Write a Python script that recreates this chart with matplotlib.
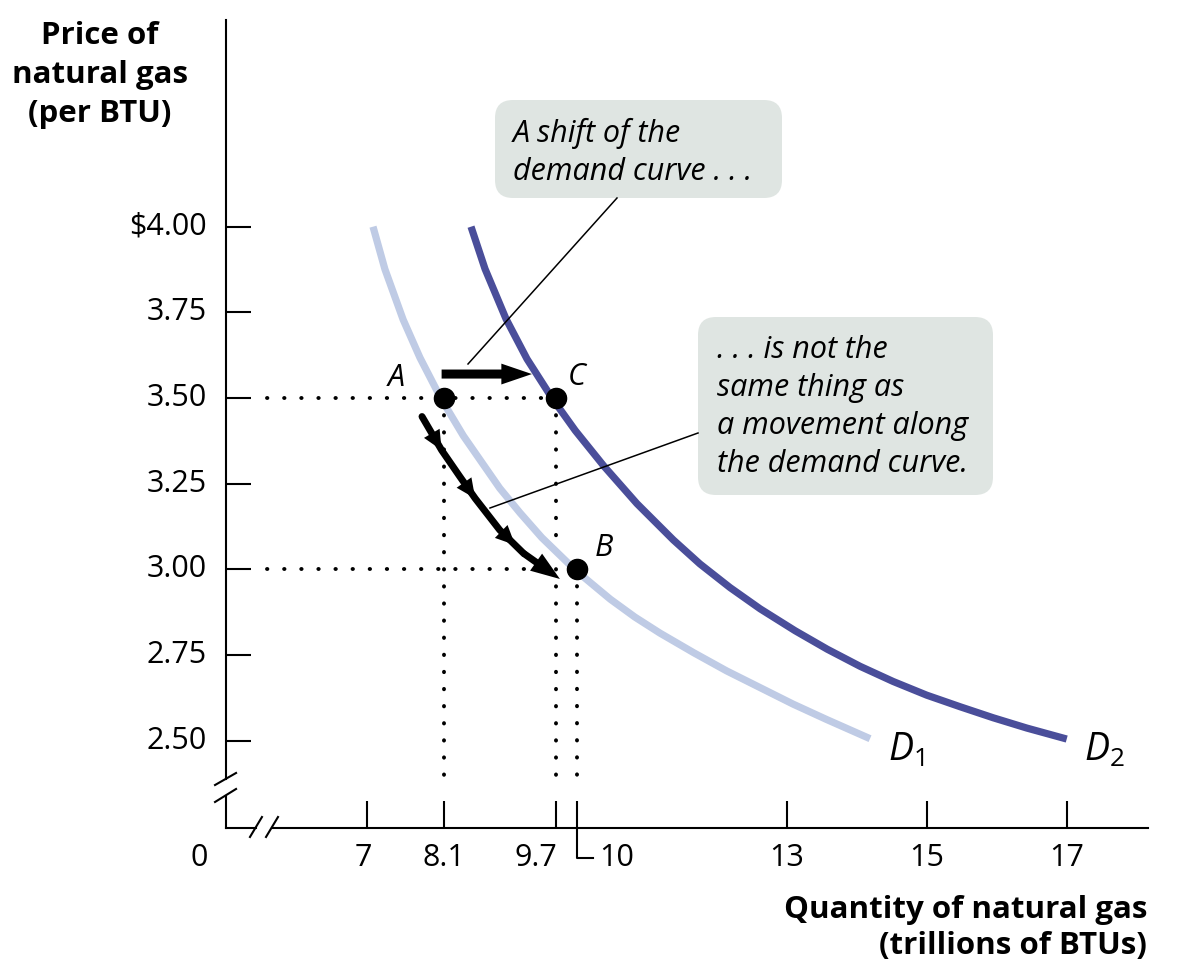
import matplotlib
matplotlib.use('Agg')
import matplotlib.pyplot as plt
import matplotlib.transforms as mtransforms
from matplotlib.patches import FancyBboxPatch, FancyArrowPatch

plt.rcParams['font.family'] = ['Open Sans', 'DejaVu Sans']
plt.rcParams['mathtext.fontset'] = 'custom'
plt.rcParams['mathtext.rm'] = 'Open Sans'
plt.rcParams['mathtext.it'] = 'Open Sans:italic'

# demand curves (quantity, price)
d1_q = [7.09, 7.26, 7.52, 7.76, 8.06, 8.38, 8.90, 9.19, 9.50, 9.98, 10.48, 10.83,
        11.19, 11.67, 12.14, 12.62, 13.09, 13.57, 14.19]
d1_p = [4.0, 3.876, 3.729, 3.618, 3.499, 3.390, 3.237, 3.165, 3.093, 2.998, 2.913, 2.861,
        2.814, 2.757, 2.704, 2.655, 2.607, 2.562, 2.506]
d2_q = [8.49, 8.69, 8.99, 9.29, 9.65, 9.98, 10.39, 10.86, 11.38, 11.76, 12.19,
        12.62, 13.12, 13.58, 14.05, 14.52, 15.0, 15.48, 15.95, 16.43, 17.0]
d2_p = [4.0, 3.877, 3.731, 3.614, 3.499, 3.405, 3.301, 3.192, 3.086, 3.016, 2.947,
        2.885, 2.821, 2.767, 2.717, 2.673, 2.633, 2.599, 2.567, 2.537, 2.505]

# labelled points
pt_names = ['A', 'C', 'B']
pt_q = [8.1, 9.7, 10.0]
pt_p = [3.5, 3.5, 3.0]

# shift arrow (A -> C) and movement along D1 (A -> B)
shift_q = [8.07, 9.36]
shift_p = [3.570, 3.570]
move_q = [7.79, 8.07, 8.33, 8.55, 8.90, 9.12, 9.24, 9.76]
move_p = [3.446, 3.348, 3.271, 3.207, 3.115, 3.071, 3.047, 2.972]
move_heads = [1, 3, 5]

x_ticks = [7, 8.1, 9.7, 10, 13, 15, 17]
x_labels = ['7', '8.1', '9.7', '10', '13', '15', '17']
y_ticks = [4.0, 3.75, 3.5, 3.25, 3.0, 2.75, 2.5]
y_labels = ['$4.00', '3.75', '3.50', '3.25', '3.00', '2.75', '2.50']

light = '#bfcbe5'
dark = '#4a4e9a'
box_col = '#dfe5e2'

fig = plt.figure(figsize=(11.88, 9.75), dpi=100)
ax = fig.add_axes([226 / 1188, 1 - 828 / 975, 922 / 1188, 808 / 975])
ax.set_xlim(4.99, 18.161)
ax.set_ylim(2.2454, 4.6031)
for s in ax.spines.values():
    s.set_visible(False)

# curves
ax.plot(d1_q, d1_p, color=light, lw=5.2, solid_capstyle='butt',
        solid_joinstyle='round', zorder=2)
ax.plot(d2_q, d2_p, color=dark, lw=5.2, solid_capstyle='butt',
        solid_joinstyle='round', zorder=2)

# dotted guides
dot = dict(color='black', lw=2.8, linestyle=(0, (0.1, 4.3)), dash_capstyle='round', zorder=1)
ax.plot([5.58, pt_q[1]], [pt_p[0], pt_p[1]], **dot)
ax.plot([5.58, 9.52], [pt_p[2], pt_p[2]], **dot)
for q, p in zip(pt_q, pt_p):
    ax.plot([q, q], [p, 2.377], **dot)

# points
ax.plot(pt_q, pt_p, 'o', color='black', ms=14.5, zorder=5)
lab_pos = {'A': (7.42, 3.559), 'C': (10.0, 3.561), 'B': (10.39, 3.062)}
for n in pt_names:
    ax.text(lab_pos[n][0], lab_pos[n][1], n, style='italic', fontsize=22,
            ha='center', va='center')

# shift arrow
ax.add_patch(FancyArrowPatch((shift_q[0], shift_p[0]), (shift_q[1], shift_p[1]),
                             arrowstyle='simple,head_length=22,head_width=15,tail_width=6.5',
                             mutation_scale=1, lw=0, color='black',
                             shrinkA=0, shrinkB=0, zorder=4))

# movement along the curve
ax.plot(move_q[:-1], move_p[:-1], color='black', lw=5,
        solid_capstyle='round', solid_joinstyle='round', zorder=4)
for i in move_heads:
    ax.add_patch(FancyArrowPatch((move_q[i - 1], move_p[i - 1]), (move_q[i], move_p[i]),
                                 arrowstyle='-|>,head_length=14,head_width=6.5',
                                 mutation_scale=1, lw=0, color='black',
                                 shrinkA=0, shrinkB=0, zorder=4))
ax.add_patch(FancyArrowPatch((move_q[-2], move_p[-2]), (move_q[-1], move_p[-1]),
                             arrowstyle='simple,head_length=21,head_width=15,tail_width=5',
                             mutation_scale=1, lw=0, color='black',
                             shrinkA=0, shrinkB=0, zorder=4))

# curve labels
ax.text(14.45, 2.471, r'$D_1$', fontsize=27, ha='left', va='center')
ax.text(17.25, 2.471, r'$D_2$', fontsize=27, ha='left', va='center')

# ticks
ax.set_xticks(x_ticks)
ax.set_xticklabels([])
ax.set_yticks(y_ticks)
ax.set_yticklabels([])
ax.tick_params(axis='both', direction='in', width=1.5, color='black')
ax.tick_params(axis='x', length=19.5)
ax.tick_params(axis='y', length=18)

x_shift = {'9.7': -20, '10': 40, '7': -3}
for q, lab in zip(x_ticks, x_labels):
    ax.annotate(lab, xy=(q, 0), xycoords=('data', 'axes fraction'),
                xytext=(x_shift.get(lab, 0), -30), textcoords='offset pixels',
                ha='center', va='center', fontsize=22)
ax.annotate('0', xy=(0, 0), xycoords='axes fraction', xytext=(-27, -30),
            textcoords='offset pixels', ha='center', va='center', fontsize=22)
for p, lab in zip(y_ticks, y_labels):
    ax.annotate(lab, xy=(0, p), xycoords=('axes fraction', 'data'),
                xytext=(-19, 0), textcoords='offset pixels',
                ha='right', va='center', fontsize=22)

# leader for the 10 label
bt = mtransforms.blended_transform_factory(ax.transData, ax.transAxes)
ax.plot([10, 10, 10.233], [0, -0.0371, -0.0371], color='black', lw=1.5,
        transform=bt, clip_on=False)

# axes with breaks
ln = dict(color='black', lw=1.5, clip_on=False, transform=ax.transAxes)
ax.plot([0, 0], [1, 0.0606], **ln)
ax.plot([0, 0], [0.0396, 0], **ln)
ax.plot([0, 0.0325], [0, 0], **ln)
ax.plot([0.0499, 1], [0, 0], **ln)
ax.plot([-0.0119, 0.0109], [0.0532, 0.0681], **ln)
ax.plot([-0.0119, 0.0109], [0.0322, 0.0483], **ln)
ax.plot([0.026, 0.039], [-0.0111, 0.0136], **ln)
ax.plot([0.0434, 0.0564], [-0.0111, 0.0136], **ln)

# axis titles
fig.text(100 / 1188, 1 - 75 / 975, 'Price of\nnatural gas\n(per BTU)',
         ha='center', va='center', fontsize=22.5, fontweight='bold', linespacing=1.38)
fig.text(1147 / 1188, 1 - 928 / 975, 'Quantity of natural gas\n(trillions of BTUs)',
         ha='right', va='center', multialignment='right', fontsize=22.5,
         fontweight='bold', linespacing=1.25)

# callout boxes on an overlay in pixel units
ov = fig.add_axes([0, 0, 1, 1], zorder=5)
ov.set_xlim(0, 1188)
ov.set_ylim(975, 0)
ov.axis('off')
ov.patch.set_alpha(0)

ov.add_patch(FancyBboxPatch((495, 100), 287, 98, boxstyle='round,pad=0,rounding_size=18',
                            fc=box_col, ec='none'))
ov.text(513, 152, 'A shift of the\ndemand curve . . .', style='italic', fontsize=22,
        ha='left', va='center', linespacing=1.35)
ov.add_patch(FancyBboxPatch((698, 317), 295, 178, boxstyle='round,pad=0,rounding_size=18',
                            fc=box_col, ec='none'))
ov.text(717, 407, '. . . is not the\nsame thing as\na movement along\nthe demand curve.',
        style='italic', fontsize=22, ha='left', va='center', linespacing=1.35)
ov.plot([617, 468], [198, 364], color='black', lw=1.1)
ov.plot([698, 490], [433, 508], color='black', lw=1.1)

fig.savefig('out.png', dpi=100)
